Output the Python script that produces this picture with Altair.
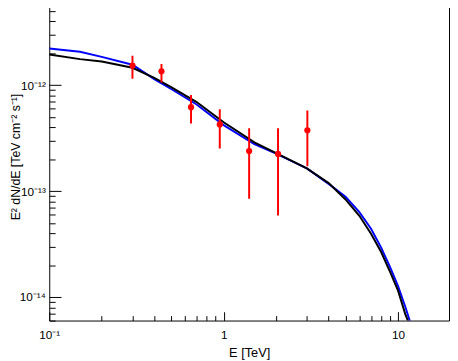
import altair as alt
import pandas as pd

# ---------------- data ----------------
curve_E = [0.1, 0.15, 0.2, 0.3, 0.4, 0.5, 0.7, 1.0, 1.5, 2.0, 3.0, 4.0,
           5.0, 6.0, 7.0, 8.0, 9.0, 10.0, 11.0, 12.0]
black_F = [1.95e-12, 1.76e-12, 1.67e-12, 1.46e-12, 1.17e-12, 9.58e-13,
           6.93e-13, 4.47e-13, 2.89e-13, 2.28e-13, 1.64e-13, 1.19e-13,
           8.34e-14, 5.85e-14, 3.96e-14, 2.66e-14, 1.73e-14, 1.15e-14,
           6.9e-15, 4.8e-15]
blue_F = [2.22e-12, 2.07e-12, 1.85e-12, 1.56e-12, 1.14e-12, 9.2e-13,
          6.57e-13, 4.2e-13, 2.77e-13, 2.26e-13, 1.64e-13, 1.17e-13,
          8.83e-14, 6.33e-14, 4.42e-14, 2.93e-14, 1.92e-14, 1.27e-14,
          8.1e-15, 5.18e-15]

pt_E = [0.30, 0.44, 0.65, 0.95, 1.40, 2.05, 3.02]
pt_F = [1.53e-12, 1.35e-12, 6.2e-13, 4.26e-13, 2.39e-13, 2.245e-13, 3.75e-13]
pt_lo = [1.15e-12, 1.057e-12, 4.35e-13, 2.53e-13, 8.47e-14, 5.89e-14, 1.72e-13]
pt_hi = [1.90e-12, 1.585e-12, 8.08e-13, 5.94e-13, 3.91e-13, 3.91e-13, 5.78e-13]

x_major = [0.1, 1, 10]
y_major = [1e-14, 1e-13, 1e-12]
x_ticks = [0.1, 0.2, 0.3, 0.4, 0.5, 0.6, 0.7, 0.8, 0.9,
           1, 2, 3, 4, 5, 6, 7, 8, 9, 10]
y_ticks = [6e-15, 7e-15, 8e-15, 9e-15,
           1e-14, 2e-14, 3e-14, 4e-14, 5e-14, 6e-14, 7e-14, 8e-14, 9e-14,
           1e-13, 2e-13, 3e-13, 4e-13, 5e-13, 6e-13, 7e-13, 8e-13, 9e-13,
           1e-12, 2e-12, 3e-12, 4e-12, 5e-12]

# ---------------- layout ----------------
W, H = 407, 322
FONT = "Liberation Sans"

black_df = pd.DataFrame({"E": curve_E, "F": black_F})
blue_df = pd.DataFrame({"E": curve_E, "F": blue_F})
pts_df = pd.DataFrame({"E": pt_E, "F": pt_F, "lo": pt_lo, "hi": pt_hi})

xscale = alt.Scale(type="log", domain=[0.1, 19.6], nice=False)
yscale = alt.Scale(type="log", domain=[6.0e-15, 5.8e-12], nice=False)

major_test = "abs(log(datum.value)/LN10 - round(log(datum.value)/LN10)) < 0.001"

x_label_axis = alt.Axis(
    orient="bottom", values=x_major,
    labelExpr="datum.value < 0.5 ? '10⁻¹' : (datum.value < 5 ? '1' : '10')",
    ticks=False, tickSize=0, domain=False, grid=False,
    labelPadding=18, labelBaseline="alphabetic", labelAlign="center",
    labelFlush=False, labelOverlap=False, labelBound=False,
    labelFont=FONT, labelFontSize=12, labelColor="black",
    title="E [TeV]", titleFont=FONT, titleFontSize=13,
    titleFontWeight="normal", titleColor="black",
    titleX=W / 2, titleY=37, titleAlign="center", titleBaseline="alphabetic",
)
y_label_axis = alt.Axis(
    orient="left", values=y_major,
    labelExpr="datum.value < 5e-14 ? '10⁻¹⁴' : (datum.value < 5e-13 ? '10⁻¹³' : '10⁻¹²')",
    ticks=False, tickSize=0, domain=False, grid=False,
    labelPadding=4, labelBaseline="middle", labelAlign="right",
    labelFlush=False, labelOverlap=False, labelBound=False,
    labelFont=FONT, labelFontSize=12, labelColor="black",
    title="E² dN/dE [TeV cm⁻² s⁻¹]", titleFont=FONT, titleFontSize=12.5,
    titleFontWeight="normal", titleColor="black",
    titleAngle=270, titleX=-30, titleY=155, titleAlign="center",
    titleBaseline="alphabetic",
)
x_tick_axis = alt.Axis(
    orient="top", offset=-H, values=x_ticks, labels=False, domain=False,
    grid=False, ticks=True, tickColor="black", tickWidth=1,
    tickSize={"condition": {"test": major_test, "value": 9}, "value": 5},
    title=None,
)
y_tick_axis = alt.Axis(
    orient="right", offset=-W, values=y_ticks, labels=False, domain=False,
    grid=False, ticks=True, tickColor="black", tickWidth=1,
    tickSize={"condition": {"test": major_test, "value": 12}, "value": 6},
    title=None,
)

blue = alt.Chart(blue_df).mark_line(color="#0000ff", strokeWidth=2, clip=True).encode(
    x=alt.X("E:Q", scale=xscale, axis=x_label_axis),
    y=alt.Y("F:Q", scale=yscale, axis=y_label_axis),
)
black = alt.Chart(black_df).mark_line(color="black", strokeWidth=2, clip=True).encode(
    x=alt.X("E:Q", scale=xscale, axis=x_tick_axis),
    y=alt.Y("F:Q", scale=yscale, axis=y_tick_axis),
)
errs = alt.Chart(pts_df).mark_rule(color="#ff0000", strokeWidth=2, clip=True).encode(
    x=alt.X("E:Q", scale=xscale, axis=None),
    y=alt.Y("lo:Q", scale=yscale, axis=None),
    y2="hi:Q",
)
dots = alt.Chart(pts_df).mark_point(
    shape="circle", filled=True, color="#ff0000", size=40, opacity=1, clip=True
).encode(
    x=alt.X("E:Q", scale=xscale, axis=None),
    y=alt.Y("F:Q", scale=yscale, axis=None),
)

chart = (
    alt.layer(blue, black, errs, dots)
    .resolve_axis(x="independent", y="independent")
    .properties(
        width=W, height=H,
        autosize=alt.AutoSizeParams(type="none"),
        padding={"left": 42, "top": -7, "right": 1, "bottom": 40},
        background="white",
    )
    .configure_view(stroke="black", strokeWidth=1)
)

chart.save("out.html", embed_options={"renderer": "svg", "actions": False})
